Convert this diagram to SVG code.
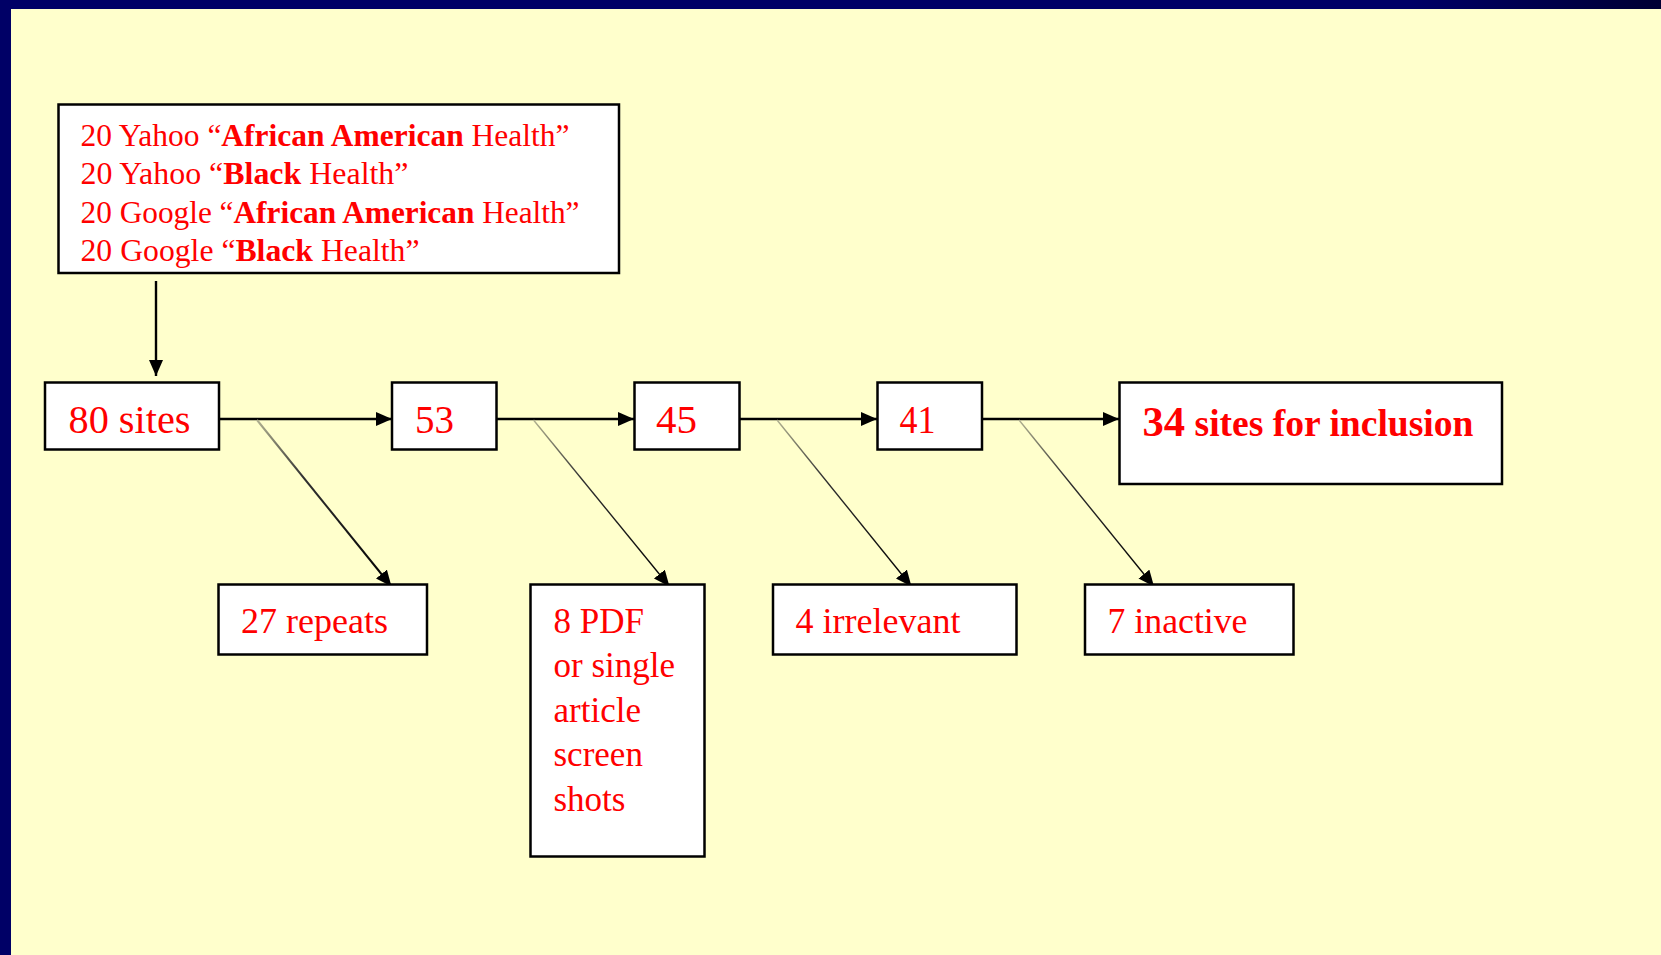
<svg xmlns="http://www.w3.org/2000/svg" width="1661" height="955" viewBox="0 0 1661 955">
<defs>
<linearGradient id="topbar" x1="0" y1="0" x2="1" y2="0">
<stop offset="0" stop-color="#000066"/>
<stop offset="0.85" stop-color="#000066"/>
<stop offset="1" stop-color="#000033"/>
</linearGradient>
<linearGradient id="fade" x1="0" y1="0" x2="1" y2="1">
<stop offset="0" stop-color="#b0b090"/>
<stop offset="0.35" stop-color="#303030"/>
<stop offset="1" stop-color="#000"/>
</linearGradient>
<marker id="ah" markerUnits="userSpaceOnUse" markerWidth="17" markerHeight="15" refX="16" refY="7" orient="auto">
<path d="M0,0 L16,7 L0,14 z" fill="#000"/>
</marker>
<style>
.box{fill:#fff;stroke:#000;stroke-width:2.5}
.t{font-family:"Liberation Serif","Times New Roman",serif;fill:#ff0000}
.b{font-weight:bold}
.c{stroke:#000;fill:none;marker-end:url(#ah)}
.h{stroke-width:2.4}
.d{stroke:url(#fade);stroke-width:1.4}
</style>
</defs>
<rect x="0" y="0" width="1661" height="955" fill="#ffffcc"/>
<rect x="0" y="0" width="1661" height="9" fill="url(#topbar)"/>
<rect x="0" y="0" width="11" height="955" fill="#000066"/>

<g id="connectors">
<line class="c h" x1="156" y1="281" x2="156" y2="376"/>
<line class="c h" x1="219" y1="419" x2="392" y2="419"/>
<line class="c h" x1="496" y1="419" x2="634" y2="419"/>
<line class="c h" x1="740" y1="419" x2="877" y2="419"/>
<line class="c h" x1="982" y1="419" x2="1119" y2="419"/>
<line class="c d" style="stroke-width:2" x1="257" y1="420" x2="391.5" y2="586.5"/>
<line class="c d" x1="533.5" y1="420" x2="669.5" y2="586.5"/>
<line class="c d" x1="777" y1="420" x2="911.5" y2="586.5"/>
<line class="c d" x1="1019" y1="420" x2="1154" y2="586.5"/>
</g>

<g id="sources">
<rect class="box" x="58.5" y="104.5" width="560.5" height="168.5"/>
<text class="t" x="80.5" y="145.5" font-size="31" textLength="489" lengthAdjust="spacingAndGlyphs">20 Yahoo “<tspan class="b">African American</tspan> Health”</text>
<text class="t" x="80.5" y="184" font-size="31" textLength="328" lengthAdjust="spacingAndGlyphs">20 Yahoo “<tspan class="b">Black</tspan> Health”</text>
<text class="t" x="80.5" y="222.5" font-size="31" textLength="499" lengthAdjust="spacingAndGlyphs">20 Google “<tspan class="b">African American</tspan> Health”</text>
<text class="t" x="80.5" y="261" font-size="31" textLength="339" lengthAdjust="spacingAndGlyphs">20 Google “<tspan class="b">Black</tspan> Health”</text>
</g>

<g id="n80">
<rect class="box" x="45" y="382.5" width="174" height="67"/>
<text class="t" x="68.5" y="432.5" font-size="40" textLength="122" lengthAdjust="spacingAndGlyphs">80 sites</text>
</g>
<g id="n53">
<rect class="box" x="392" y="382.5" width="104.5" height="67"/>
<text class="t" x="415" y="432.5" font-size="40" textLength="39" lengthAdjust="spacingAndGlyphs">53</text>
</g>
<g id="n45">
<rect class="box" x="634.5" y="382.5" width="105" height="67"/>
<text class="t" x="656" y="432.5" font-size="40" textLength="41" lengthAdjust="spacingAndGlyphs">45</text>
</g>
<g id="n41">
<rect class="box" x="877.5" y="382.5" width="104.5" height="67"/>
<text class="t" x="899.5" y="432.5" font-size="40" textLength="36" lengthAdjust="spacingAndGlyphs">41</text>
</g>
<g id="n34">
<rect class="box" x="1119.5" y="382.5" width="382.5" height="101.5"/>
<text class="t b" x="1142.5" y="436" textLength="331" lengthAdjust="spacingAndGlyphs"><tspan font-size="42">34</tspan><tspan font-size="37"> sites for inclusion</tspan></text>
</g>

<g id="repeats">
<rect class="box" x="218.5" y="584.5" width="208.5" height="70"/>
<text class="t" x="241" y="632.5" font-size="35" textLength="147" lengthAdjust="spacingAndGlyphs">27 repeats</text>
</g>
<g id="pdf">
<rect class="box" x="530.5" y="584.5" width="174" height="272"/>
<text class="t" x="553.5" font-size="35">
<tspan x="553.5" y="632.5">8 PDF</tspan>
<tspan x="553.5" y="677">or single</tspan>
<tspan x="553.5" y="721.5">article</tspan>
<tspan x="553.5" y="766">screen</tspan>
<tspan x="553.5" y="810.5">shots</tspan>
</text>
</g>
<g id="irrelevant">
<rect class="box" x="773" y="584.5" width="243.5" height="70"/>
<text class="t" x="795.5" y="632.5" font-size="35" textLength="165" lengthAdjust="spacingAndGlyphs">4 irrelevant</text>
</g>
<g id="inactive">
<rect class="box" x="1085" y="584.5" width="208.5" height="70"/>
<text class="t" x="1107.5" y="632.5" font-size="35" textLength="140" lengthAdjust="spacingAndGlyphs">7 inactive</text>
</g>
</svg>
